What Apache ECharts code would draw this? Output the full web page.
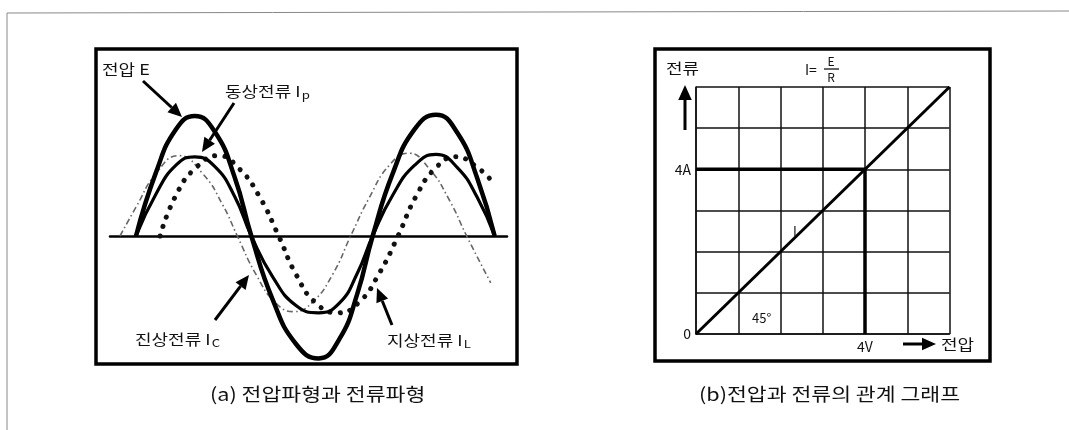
<!DOCTYPE html>
<html>
<head>
<meta charset="utf-8">
<script src="https://cdn.jsdelivr.net/npm/echarts@6.0.0/dist/echarts.min.js"></script>
<style>
  html, body { margin: 0; padding: 0; background: #fff; }
  #chart { width: 1069px; height: 430px; }
</style>
</head>
<body>
<div id="chart"></div>
<script>
// (a) waveforms, [phase in degrees, value]
var voltageE = [[0,0],[30,5.3],[60,8.9],[88,10],[118,8.7],[148,4.9],[173,0],[205,-5.3],[240,-9.0],[274,-10.2],[305,-8.6],[332,-4.8],[355,0],[385,5.2],[418,8.9],[450,10.1],[482,8.6],[512,4.8],[538,0]];
var currentIp = [[0,0],[30,3.5],[60,5.9],[88,6.6],[118,5.8],[148,3.3],[173,0],[205,-3.4],[240,-5.8],[274,-6.4],[305,-5.6],[332,-3.1],[355,0],[385,3.4],[418,5.9],[450,6.8],[482,5.7],[512,3.2],[538,0]];
var currentIc = [[-24,0],[0,2.4],[30,5.2],[64,6.7],[100,5.2],[130,2.6],[152,0],[180,-3.2],[210,-5.6],[237,-6.3],[265,-5.5],[295,-3.2],[322,0],[350,3.2],[380,5.9],[409,6.9],[440,5.6],[470,3.0],[496,0],[532,-3.9]];
var currentIL = [[36,0],[60,3.4],[90,5.7],[124,6.7],[155,5.6],[185,3.3],[214,0],[240,-3.2],[270,-5.6],[303,-6.4],[335,-5.5],[365,-3.1],[393,0],[420,3.3],[450,5.7],[480,6.6],[510,5.8],[535,4.5]];

// (b) I = E/R on a 6 x 6 grid
var ohmLine = [[0,0],[6,6]];
var pointLine = [[0,4],[4,4],[4,0]];
var xTickLabels = ['', '', '', '', '4V', '', ''];
var yTickLabels = ['0', '', '', '', '4A', '', ''];

var FONT = '"Noto Sans CJK KR", "Noto Sans", sans-serif';

function txt(x, y, s, size, align, sx) {
  return {
    type: 'text', x: x, y: y, scaleX: sx || 1.2,
    style: { text: s, fontSize: size, fontFamily: FONT, fill: '#111',
      align: align || 'left', verticalAlign: 'middle',
      textAlign: align || 'left', textVerticalAlign: 'middle' }
  };
}

// label with a small subscript right after the "I"
function subTxt(x, y, main, sub) {
  return {
    type: 'text', x: x, y: y, scaleX: 1.2,
    style: {
      text: '{a|' + main + '}{s|' + sub + '}',
      fontFamily: FONT, fill: '#111', align: 'left', verticalAlign: 'middle',
      textAlign: 'left', textVerticalAlign: 'middle',
      rich: {
        a: { fontSize: 15, fontFamily: FONT, fill: '#111' },
        s: { fontSize: 11, fontFamily: FONT, fill: '#111', padding: [7, 0, 0, 1] }
      }
    }
  };
}

function arrow(x1, y1, x2, y2, w, head) {
  var a = Math.atan2(y2 - y1, x2 - x1), L = head || 13, W = L * 0.45;
  var bx = x2 - L * Math.cos(a), by = y2 - L * Math.sin(a);
  return [
    { type: 'line', shape: { x1: x1, y1: y1, x2: bx, y2: by }, style: { stroke: '#000', lineWidth: w } },
    { type: 'polygon', shape: { points: [[x2, y2], [bx + W * Math.sin(a), by - W * Math.cos(a)], [bx - W * Math.sin(a), by + W * Math.cos(a)]] }, style: { fill: '#000' } }
  ];
}

var graphics = [
  { type: 'polyline', shape: { points: [[7, 430], [7, 13], [1069, 11]] }, style: { stroke: '#888', lineWidth: 1, fill: null } },
  { type: 'rect', shape: { x: 96, y: 49, width: 421, height: 315 }, style: { stroke: '#000', lineWidth: 3.5, fill: null } },
  { type: 'rect', shape: { x: 655, y: 49, width: 335, height: 312 }, style: { stroke: '#000', lineWidth: 3.5, fill: null } },

  txt(102, 69, '전압 E', 15),
  subTxt(225, 91, '동상전류 I', 'p'),
  subTxt(135, 339, '진상전류 I', 'C'),
  subTxt(387, 340, '지상전류 I', 'L'),
  txt(210, 394, '(a) 전압파형과 전류파형', 18),

  txt(666, 68, '전류', 15),
  txt(805, 70, 'I=', 14, 'left', 1),
  txt(831, 61, 'E', 12, 'center', 1),
  { type: 'line', shape: { x1: 824, y1: 69, x2: 839, y2: 69 }, style: { stroke: '#000', lineWidth: 1.2 } },
  txt(831, 77, 'R', 12, 'center', 1),
  txt(752, 318, '45°', 13, 'left', 1),
  txt(793, 231, 'I', 13, 'left', 1),
  txt(941, 344, '전압', 15),
  txt(699, 394, '(b)전압과 전류의 관계 그래프', 18)
];
graphics = graphics
  .concat(arrow(143, 81, 182, 117, 3, 14))
  .concat(arrow(234, 103, 202, 152, 3, 14))
  .concat(arrow(215, 320, 249, 275, 3, 14))
  .concat(arrow(392, 325, 377, 288, 3, 14))
  .concat(arrow(685, 130, 685, 85, 3, 15))
  .concat(arrow(903, 344, 936, 344, 3, 14));

var chart = echarts.init(document.getElementById('chart'));

var option = {
  animation: false,
  backgroundColor: '#fff',
  grid: [
    { left: 110, top: 110, width: 397, height: 252 },
    { left: 696, top: 87, width: 253.5, height: 247 }
  ],
  xAxis: [
    {
      gridIndex: 0, type: 'value', min: -39, max: 556.5,
      axisLine: { onZero: true, lineStyle: { color: '#000', width: 2.5 } },
      axisTick: { show: false }, axisLabel: { show: false }, splitLine: { show: false }
    },
    {
      gridIndex: 1, type: 'value', min: 0, max: 6, interval: 1,
      axisLine: { onZero: false, lineStyle: { color: '#111', width: 1.5 } },
      axisTick: { show: false },
      axisLabel: {
        margin: 6, color: '#111', fontSize: 14, fontFamily: FONT,
        formatter: function (v) { return xTickLabels[v] || ''; }
      },
      splitLine: { show: true, lineStyle: { color: '#111', width: 1.5 } }
    }
  ],
  yAxis: [
    {
      gridIndex: 0, type: 'value', min: -10.5, max: 10.5,
      axisLine: { show: false }, axisTick: { show: false }, axisLabel: { show: false }, splitLine: { show: false }
    },
    {
      gridIndex: 1, type: 'value', min: 0, max: 6, interval: 1,
      axisLine: { onZero: false, lineStyle: { color: '#111', width: 1.5 } },
      axisTick: { show: false },
      axisLabel: {
        margin: 5, color: '#111', fontSize: 14, fontFamily: FONT, padding: [0, 0, 5, 0],
        formatter: function (v) { return yTickLabels[v] || ''; }
      },
      splitLine: { show: true, lineStyle: { color: '#111', width: 1.5 } }
    }
  ],
  series: [
    { name: '진상전류 Ic', type: 'line', xAxisIndex: 0, yAxisIndex: 0, data: currentIc, smooth: 0.5, showSymbol: false,
      lineStyle: { color: '#666', width: 1.6, type: [6, 3, 1.5, 3] } },
    { name: '지상전류 IL', type: 'line', xAxisIndex: 0, yAxisIndex: 0, data: currentIL, smooth: 0.5, showSymbol: false,
      lineStyle: { color: '#111', width: 5, type: [0.1, 10], cap: 'round' } },
    { name: '동상전류 Ip', type: 'line', xAxisIndex: 0, yAxisIndex: 0, data: currentIp, smooth: 0.5, showSymbol: false,
      lineStyle: { color: '#000', width: 3.2 } },
    { name: '전압 E', type: 'line', xAxisIndex: 0, yAxisIndex: 0, data: voltageE, smooth: 0.5, showSymbol: false,
      lineStyle: { color: '#000', width: 4.5 } },
    { name: 'I=E/R', type: 'line', xAxisIndex: 1, yAxisIndex: 1, data: ohmLine, showSymbol: false,
      lineStyle: { color: '#000', width: 3 } },
    { name: '4V 4A', type: 'line', xAxisIndex: 1, yAxisIndex: 1, data: pointLine, showSymbol: false,
      lineStyle: { color: '#000', width: 3.5 } }
  ],
  graphic: graphics
};

chart.setOption(option);
</script>
</body>
</html>
